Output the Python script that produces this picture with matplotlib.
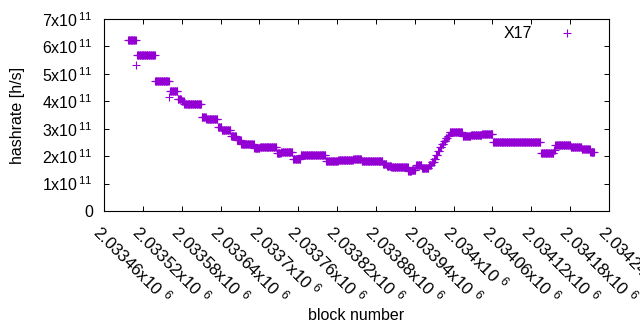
import numpy as np
import matplotlib
matplotlib.use("Agg")
import matplotlib.pyplot as plt
import matplotlib.transforms as mtransforms

plt.rcParams['font.family'] = ['Liberation Sans', 'DejaVu Sans']
plt.rcParams['mathtext.fontset'] = 'custom'
plt.rcParams['mathtext.rm'] = 'Liberation Sans'
plt.rcParams['mathtext.it'] = 'Liberation Sans'
plt.rcParams['mathtext.bf'] = 'Liberation Sans'

BASE = 2033460
# runs of constant hashrate: start offset, end offset (blocks from BASE), value (x1e11 h/s)
run_start = [37, 50, 51, 79, 101, 102, 114, 120, 124, 151, 158, 176, 182, 196, 205, 212,
             232, 241, 267, 274, 292, 304, 343, 362, 385, 398, 431, 437, 444, 470, 475,
             482, 491, 502, 506, 510, 513, 516, 519, 522, 525, 528, 531, 534, 554, 567,
             584, 601, 675, 695, 697, 721, 738, 751]
run_end = [49, 50, 78, 100, 101, 113, 119, 123, 150, 157, 175, 181, 195, 204, 211, 231,
           240, 266, 273, 291, 303, 342, 361, 384, 397, 430, 436, 443, 469, 474, 481,
           490, 501, 505, 509, 512, 515, 518, 521, 524, 527, 530, 533, 553, 566, 583,
           600, 674, 694, 696, 720, 737, 750, 757]
run_value = [6.22, 5.31, 5.68, 4.73, 4.17, 4.36, 4.08, 4.00, 3.89, 3.42, 3.37, 3.05, 2.94,
             2.73, 2.58, 2.43, 2.30, 2.32, 2.10, 2.14, 1.91, 2.04, 1.82, 1.86, 1.88, 1.81,
             1.72, 1.64, 1.59, 1.47, 1.50, 1.67, 1.57, 1.68, 1.78, 1.90, 2.05, 2.20, 2.35,
             2.45, 2.55, 2.65, 2.75, 2.87, 2.73, 2.77, 2.80, 2.53, 2.10, 2.22, 2.40, 2.35,
             2.26, 2.15]

xtick_vals = [2033460, 2033520, 2033580, 2033640, 2033700, 2033760, 2033820, 2033880,
              2033940, 2034000, 2034060, 2034120, 2034180, 2034240]
xtick_mant = ["2.03346", "2.03352", "2.03358", "2.03364", "2.0337", "2.03376", "2.03382",
              "2.03388", "2.03394", "2.034", "2.03406", "2.03412", "2.03418", "2.03424"]
ytick_vals = [0, 1e11, 2e11, 3e11, 4e11, 5e11, 6e11, 7e11]
ytick_mant = ["0", "1", "2", "3", "4", "5", "6", "7"]

blocks = []
hashrate = []
for s, e, v in zip(run_start, run_end, run_value):
    b = np.arange(s, e + 1) + BASE
    blocks.append(b)
    hashrate.append(np.full(len(b), v * 1e11))
blocks = np.concatenate(blocks)
hashrate = np.concatenate(hashrate)

FS = 11.5
fig = plt.figure(figsize=(6.4, 3.3), dpi=100)
ax = fig.add_axes([104/640, 1 - 211/330, (609-104)/640, (211-19)/330])
color = '#9400D3'
ax.plot(blocks, hashrate, linestyle='none', marker='+', markersize=5.2,
        markeredgewidth=0.8, color=color, label='X17')

ax.set_xlim(xtick_vals[0], xtick_vals[-1])
ax.set_ylim(0, 7e11)
ax.set_xticks(xtick_vals)
ax.set_xticklabels([m + "x10 $^{6}$" for m in xtick_mant], rotation=-45,
                   ha='left', va='top', rotation_mode='anchor', fontsize=12.2)
offset = mtransforms.ScaledTranslation(5/100, 0, fig.dpi_scale_trans)
for lab in ax.get_xticklabels():
    lab.set_transform(lab.get_transform() + offset)
ax.set_yticks(ytick_vals)
ax.set_yticklabels([m if m == "0" else m + "x10$^{\\,11}$" for m in ytick_mant], fontsize=FS)
ax.tick_params(direction='in', length=3.5, width=0.7, top=True, right=True,
               colors='black')
ax.tick_params(axis='y', pad=8)
ax.tick_params(axis='x', pad=7)
for sp in ax.spines.values():
    sp.set_linewidth(0.8)

ax.set_xlabel('block number', fontsize=FS)
ax.xaxis.set_label_coords(0.5, -(315 - 211) / 192)
ax.xaxis.label.set_va('center')
ax.set_ylabel('hashrate [h/s]', fontsize=FS)
ax.yaxis.set_label_coords(-(104 - 18) / 505, 0.5)
ax.yaxis.label.set_va('center')

leg = ax.legend(loc='upper right', frameon=False, markerfirst=False, fontsize=FS,
                handlelength=2.0, handletextpad=1.2, borderaxespad=0.0,
                bbox_to_anchor=(0.961, 0.995))

fig.savefig('out.png', dpi=100)
